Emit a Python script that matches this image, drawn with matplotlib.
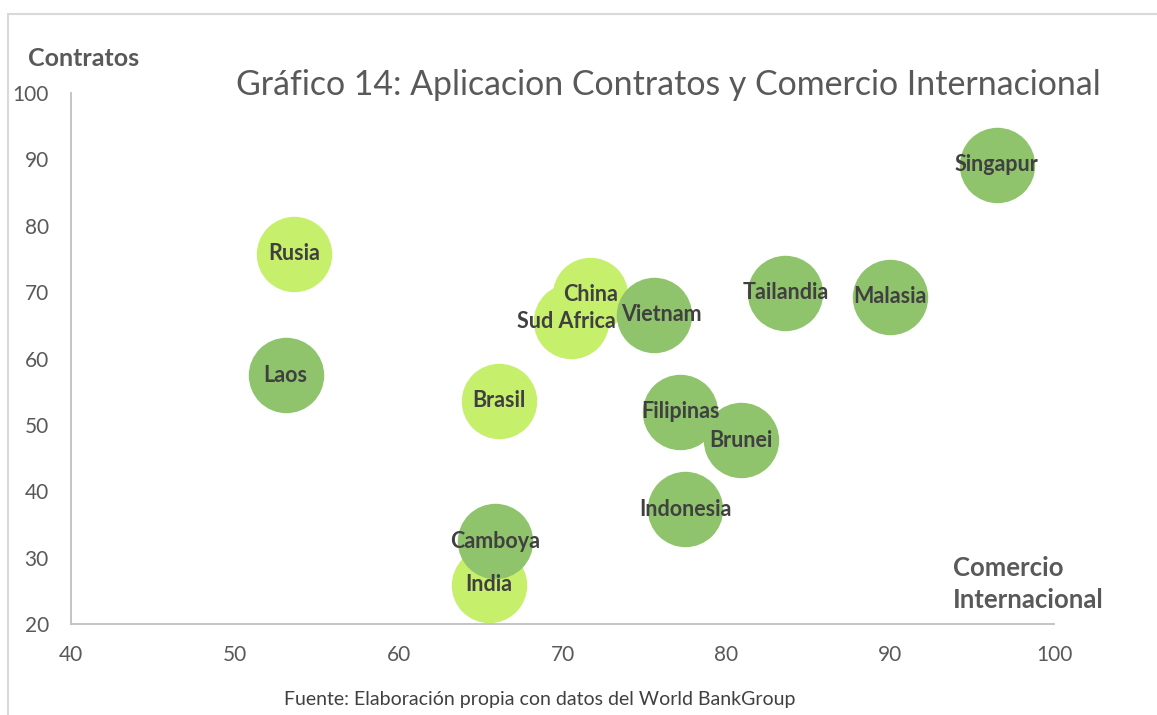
import matplotlib.pyplot as plt
from matplotlib.patches import Rectangle

# Comercio internacional (x) vs. cumplimiento de contratos (y)
brics = ["Rusia", "Sud Africa", "China", "Brasil", "India"]
brics_x = [53.6, 70.5, 71.7, 66.1, 65.5]
brics_y = [75.8, 65.6, 69.6, 53.6, 25.9]

asean = ["Laos", "Vietnam", "Tailandia", "Malasia", "Singapur",
         "Filipinas", "Brunei", "Indonesia", "Camboya"]
asean_x = [53.1, 75.6, 83.6, 90.0, 96.5, 77.2, 80.9, 77.5, 65.9]
asean_y = [57.5, 66.6, 69.9, 69.3, 89.2, 52.0, 47.7, 37.3, 32.5]

x_ticks = [40, 50, 60, 70, 80, 90, 100]
y_ticks = [20, 30, 40, 50, 60, 70, 80, 90, 100]

plt.rcParams['font.family'] = ['Lato', 'DejaVu Sans']

W, H = 1157, 715
fig = plt.figure(figsize=(W / 100, H / 100), dpi=100)
ax = fig.add_axes([71 / W, (H - 624) / H, (1054 - 71) / W, (624 - 93) / H])

bubble = 2950
ax.scatter(brics_x, brics_y, s=bubble, color="#c6ef6b", linewidths=0, zorder=2)
ax.scatter(asean_x, asean_y, s=bubble, color="#90c46c", linewidths=0, zorder=3)

# small nudges (in points) so neighbouring labels do not collide
nudge = {"Sud Africa": -3, "Vietnam": 5}
for name, x, y in zip(brics + asean, brics_x + asean_x, brics_y + asean_y):
    ax.annotate(name, (x, y), xytext=(nudge.get(name, 0), 0),
                textcoords="offset points", ha="center", va="center",
                fontsize=15.5, fontweight="bold", color="#404040", zorder=5)

ax.set_xlim(40, 100)
ax.set_ylim(20, 100)
ax.set_xticks(x_ticks)
ax.set_yticks(y_ticks)
ax.tick_params(length=0, labelsize=15, labelcolor="#595959")
ax.tick_params(axis="x", pad=15)
ax.tick_params(axis="y", pad=16)
for side in ["top", "right"]:
    ax.spines[side].set_visible(False)
for side in ["left", "bottom"]:
    ax.spines[side].set_color("#bfbfbf")
    ax.spines[side].set_linewidth(1.3)

# axis titles
fig.text(28 / W, 1 - 58 / H, "Contratos", fontsize=18, fontweight="bold",
         color="#595959", va="center", ha="left")
fig.text(953 / W, 1 - 584 / H, "Comercio\nInternacional", fontsize=18.5,
         fontweight="bold", color="#595959", va="center", ha="left",
         linespacing=1.35)

fig.text(668 / W, 1 - 85 / H, "Gráfico 14: Aplicacion Contratos y Comercio Internacional",
         fontsize=24.4, color="#595959", ha="center", va="center")

fig.text(540 / W, 1 - 700 / H, "Fuente: Elaboración propia con datos del World BankGroup",
         fontsize=14, color="#404040", ha="center", va="center")

# chart border
fig.patches.append(Rectangle((8 / W, -0.1), 1.2, 1.1 - 14 / H,
                             transform=fig.transFigure, fill=False,
                             edgecolor="#d9d9d9", linewidth=1.5))

fig.savefig("out.png", dpi=100)
